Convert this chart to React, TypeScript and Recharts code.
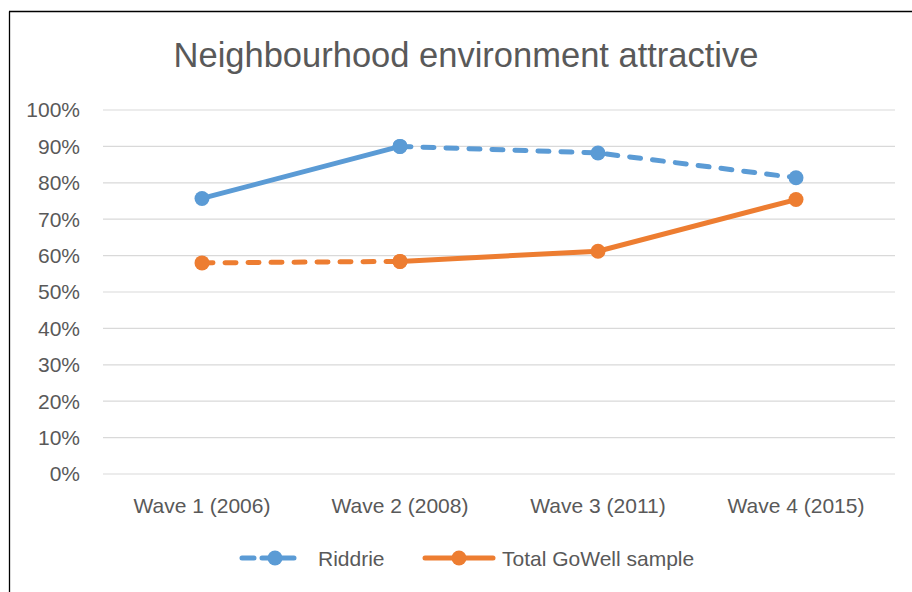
import React from 'react';
import { LineChart, Line, XAxis, YAxis, CartesianGrid } from 'recharts';

const categories = ['Wave 1 (2006)', 'Wave 2 (2008)', 'Wave 3 (2011)', 'Wave 4 (2015)'];
const riddrie = [75.7, 90.0, 88.2, 81.4];
const totalGoWell = [58.0, 58.4, 61.2, 75.4];
const yTicks = [0, 10, 20, 30, 40, 50, 60, 70, 80, 90, 100];

const BLUE = '#5B9BD5';
const ORANGE = '#ED7D31';
const TEXT = '#595959';
const FONT = '"Liberation Sans", Arial, sans-serif';
const DASH = '11 12';
const LW = 5;
const R = 7.5;

// Riddrie: solid from wave 1 to 2, dashed afterwards; Total: dashed wave 1 to 2, solid afterwards
const data = categories.map((name, i) => ({
  name,
  riddrieSolid: i <= 1 ? riddrie[i] : null,
  riddrieDashed: i >= 1 ? riddrie[i] : null,
  totalDashed: i <= 1 ? totalGoWell[i] : null,
  totalSolid: i >= 1 ? totalGoWell[i] : null,
}));

const dotStyle = (c: string) => ({ r: R, fill: c, stroke: c, strokeWidth: 0 });

export default function App() {
  return (
    <div style={{ position: 'absolute', left: 0, top: 0, width: 912, height: 592, background: '#fff', overflow: 'hidden' }}>
      <LineChart
        width={912}
        height={592}
        data={data}
        margin={{ top: 110, right: 17, bottom: 88, left: 23 }}
      >
        <CartesianGrid vertical={false} stroke="#D9D9D9" strokeWidth={1.2} />
        <XAxis
          dataKey="name"
          axisLine={false}
          tickLine={false}
          tickSize={0}
          tickMargin={24}
          height={30}
          padding={{ left: 99, right: 99 }}
          interval={0}
          tick={{ fill: TEXT, fontSize: 21, fontFamily: FONT }}
        />
        <YAxis
          domain={[0, 100]}
          ticks={yTicks}
          axisLine={false}
          tickLine={false}
          tickSize={0}
          tickMargin={23}
          width={80}
          interval={0}
          tickFormatter={(v: number) => `${v}%`}
          tick={{ fill: TEXT, fontSize: 21, fontFamily: FONT }}
        />
        <Line dataKey="riddrieSolid" stroke={BLUE} strokeWidth={LW} strokeLinecap="round" dot={dotStyle(BLUE)} activeDot={false} isAnimationActive={false} />
        <Line dataKey="riddrieDashed" stroke={BLUE} strokeWidth={LW} strokeLinecap="round" strokeDasharray={DASH} dot={dotStyle(BLUE)} activeDot={false} isAnimationActive={false} />
        <Line dataKey="totalDashed" stroke={ORANGE} strokeWidth={LW} strokeLinecap="round" strokeDasharray={DASH} dot={dotStyle(ORANGE)} activeDot={false} isAnimationActive={false} />
        <Line dataKey="totalSolid" stroke={ORANGE} strokeWidth={LW} strokeLinecap="round" dot={dotStyle(ORANGE)} activeDot={false} isAnimationActive={false} />
      </LineChart>
      <svg width={912} height={592} style={{ position: 'absolute', left: 0, top: 0, pointerEvents: 'none' }}>
        <line x1={9.5} y1={11.5} x2={9.5} y2={600} stroke="#000" strokeWidth={1.3} />
        <line x1={9} y1={11.5} x2={920} y2={11.5} stroke="#000" strokeWidth={1.3} />
        <text x={466} y={67} textAnchor="middle" fill={TEXT} fontSize={34.5} fontFamily={FONT}>
          Neighbourhood environment attractive
        </text>
        <g>
          <line x1={242} y1={558} x2={300} y2={558} stroke={BLUE} strokeWidth={LW} strokeLinecap="round" strokeDasharray="12 8" />
          <circle cx={275} cy={558} r={R} fill={BLUE} />
          <text x={318} y={566} fill={TEXT} fontSize={21} fontFamily={FONT}>Riddrie</text>
        </g>
        <g>
          <line x1={425} y1={558} x2={493} y2={558} stroke={ORANGE} strokeWidth={LW} strokeLinecap="round" />
          <circle cx={459} cy={558} r={R} fill={ORANGE} />
          <text x={502} y={566} fill={TEXT} fontSize={21} fontFamily={FONT}>Total GoWell sample</text>
        </g>
      </svg>
    </div>
  );
}
